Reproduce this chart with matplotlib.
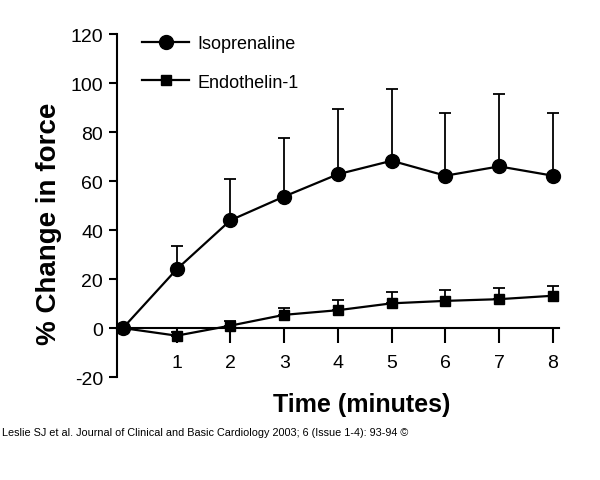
import matplotlib
matplotlib.use('Agg')
from matplotlib import pyplot as plt
from matplotlib.lines import Line2D

# Time course of force change
minutes = [0, 1, 2, 3, 4, 5, 6, 7, 8]
iso_mean = [0, 24, 44, 53.7, 62.8, 68.3, 62.2, 66, 62.2]
iso_err = [0, 9.6, 16.8, 23.7, 26.8, 29.2, 25.6, 29.5, 25.6]
et1_mean = [0, -3.1, 1, 5.4, 7.3, 10.1, 11.1, 11.8, 13.2]
et1_err = [0, 1.5, 1.7, 2.8, 4.3, 4.5, 4.4, 4.4, 4.1]

yticks = [-20, 0, 20, 40, 60, 80, 100, 120]
xticks = [1, 2, 3, 4, 5, 6, 7, 8]

plt.rcParams['font.family'] = ['Liberation Sans', 'DejaVu Sans']
plt.rcParams['axes.unicode_minus'] = False

fig = plt.figure(figsize=(6, 4.81), dpi=100)
ax = fig.add_axes([0.195, 0.214, 0.74, 0.713])

ax.errorbar(minutes, et1_mean, yerr=[[0] * len(et1_err), et1_err], color='black',
            marker='s', ms=7, lw=1.6, elinewidth=1.3, capsize=4.5, capthick=1.3,
            clip_on=False, zorder=3)
ax.errorbar(minutes, iso_mean, yerr=[[0] * len(iso_err), iso_err], color='black',
            marker='o', ms=10, lw=1.6, elinewidth=1.3, capsize=4.5, capthick=1.3,
            clip_on=False, zorder=4)

ax.set_xlim(-0.11, 8.15)
ax.set_ylim(-20, 120)

ax.spines['top'].set_visible(False)
ax.spines['right'].set_visible(False)
ax.spines['bottom'].set_position(('data', 0))
ax.spines['bottom'].set_bounds(-0.11, 8.11)
ax.spines['left'].set_linewidth(1.5)
ax.spines['bottom'].set_linewidth(1.5)

ax.set_xticks(xticks)
ax.set_yticks(yticks)
ax.tick_params(axis='x', direction='out', length=11, width=1.5, pad=8, labelsize=14)
ax.tick_params(axis='y', direction='out', length=6, width=1.5, pad=4, labelsize=14)

ax.set_ylabel('% Change in force', fontsize=20, fontweight='bold')
ax.yaxis.set_label_coords(-0.124, 0.45)
ax.set_xlabel('Time (minutes)', fontsize=18, fontweight='bold')
ax.xaxis.set_label_coords(0.55, -0.045)

handles = [Line2D([], [], color='black', marker='o', ms=10, lw=1.6),
           Line2D([], [], color='black', marker='s', ms=7, lw=1.6)]
labels = ['Isoprenaline', 'Endothelin-1']
ax.legend(handles, labels, loc='upper left', bbox_to_anchor=(0.02, 1.045),
          frameon=False, fontsize=13, labelspacing=1.2, handlelength=2.6,
          handletextpad=0.45)

fig.text(0.003, 0.1, 'Leslie SJ et al. Journal of Clinical and Basic Cardiology 2003; 6 (Issue 1-4): 93-94 \u00a9',
         fontsize=7.8, va='center', ha='left')

fig.savefig('out.png', dpi=100)
